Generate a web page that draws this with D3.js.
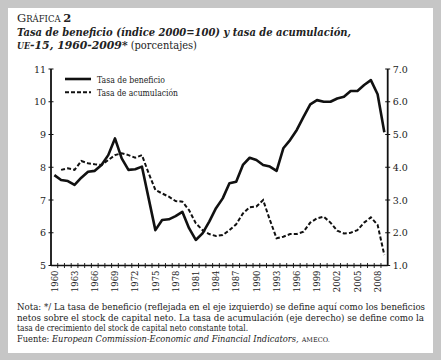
<!DOCTYPE html>
<html><head><meta charset="utf-8">
<script src="https://cdn.jsdelivr.net/npm/d3@7"></script>
<style>
body{margin:0;background:#c6c6c6;}
svg{display:block;}
</style></head>
<body>
<script>
const years = d3.range(1960, 2010);
const profitRate = [7.76,7.61,7.58,7.46,7.68,7.86,7.89,8.07,8.37,8.88,
  8.27,7.92,7.94,8.02,7.05,6.08,6.39,6.41,6.51,6.64,
  6.14,5.78,5.98,6.34,6.75,7.05,7.51,7.56,8.07,8.29,
  8.22,8.07,8.02,7.89,8.58,8.83,9.14,9.54,9.92,10.05,
  10.0,10.0,10.1,10.15,10.33,10.33,10.51,10.66,10.23,9.07];
const accumRate = [null,3.92,3.97,3.92,4.19,4.12,4.09,4.07,4.22,4.37,
  4.43,4.37,4.29,4.37,3.82,3.31,3.2,3.1,2.97,2.95,
  2.69,2.29,2.08,1.96,1.9,1.93,2.08,2.26,2.59,2.78,
  2.8,3.0,2.39,1.83,1.88,1.96,1.96,2.03,2.31,2.44,
  2.49,2.31,2.06,1.98,2.0,2.08,2.31,2.47,2.24,1.32];
const leftTicks = [5,6,7,8,9,10,11];
const rightTicks = [1,2,3,4,5,6,7];
const labelYears = d3.range(1960, 2009, 3);
const seriesNames = ["Tasa de beneficio","Tasa de acumulación"];

const FONT = "'DejaVu Serif','Liberation Serif','Times New Roman',serif";
const W=441,H=360;
const svg=d3.select("body").append("svg").attr("width",W).attr("height",H)
  .attr("font-family",FONT).attr("fill","#222");
svg.append("rect").attr("x",0).attr("y",0).attr("width",W).attr("height",H).attr("fill","#c6c6c6");
svg.append("rect").attr("x",8).attr("y",8).attr("width",425).attr("height",345).attr("fill","#fff");

function txt(sel){ return sel.append("text").attr("font-family",FONT).attr("fill","#222"); }

// Title
const t1=txt(svg).attr("x",17).attr("y",21.5).attr("font-size",11.5);
t1.append("tspan").text("G");
t1.append("tspan").attr("font-size",8.5).text("RÁFICA ");
t1.append("tspan").attr("font-weight","bold").text("2");
txt(svg).attr("x",17).attr("y",35.5).attr("font-size",11.5)
  .attr("font-weight","bold").attr("font-style","italic")
  .attr("textLength",334).attr("lengthAdjust","spacingAndGlyphs")
  .text("Tasa de beneficio (índice 2000=100) y tasa de acumulación,");
const t3=txt(svg).attr("x",17).attr("y",48.5).attr("font-size",11.5)
  .attr("textLength",180).attr("lengthAdjust","spacingAndGlyphs");
t3.append("tspan").attr("font-weight","bold").attr("font-style","italic").attr("font-size",8.5).text("UE");
t3.append("tspan").attr("font-weight","bold").attr("font-style","italic").text("-15, 1960-2009*");
t3.append("tspan").attr("font-size",10.5).text(" (porcentajes)");

// Scales
const x=d3.scaleLinear().domain([1959.5,2009.5]).range([51,387.7]);
const yL=d3.scaleLinear().domain([5,11]).range([265.5,69]);
const yR=d3.scaleLinear().domain([1,7]).range([265.5,69]);

const g=svg.append("g");
g.append("line").attr("x1",x(1959.5)).attr("x2",x(1959.5)).attr("y1",yL(11)).attr("y2",yL(5)).attr("stroke","#111").attr("stroke-width",1.8);
g.append("line").attr("x1",x(2009.5)).attr("x2",x(2009.5)).attr("y1",yR(7)).attr("y2",yR(1)).attr("stroke","#111").attr("stroke-width",1.8);
g.append("line").attr("x1",x(1959.5)).attr("x2",x(2009.5)).attr("y1",yL(5)).attr("y2",yL(5)).attr("stroke","#111").attr("stroke-width",1.5);

leftTicks.forEach(v=>{
  g.append("line").attr("x1",x(1959.5)-2.5).attr("x2",x(1959.5)+2.5).attr("y1",yL(v)).attr("y2",yL(v)).attr("stroke","#111").attr("stroke-width",1);
  txt(g).attr("x",x(1959.5)-5).attr("y",yL(v)+3.5).attr("text-anchor","end").attr("font-size",9.5).text(v);
});
rightTicks.forEach(v=>{
  g.append("line").attr("x1",x(2009.5)-2.5).attr("x2",x(2009.5)+2.5).attr("y1",yR(v)).attr("y2",yR(v)).attr("stroke","#111").attr("stroke-width",1);
  txt(g).attr("x",x(2009.5)+5).attr("y",yR(v)+3.5).attr("text-anchor","start").attr("font-size",9.5).text(d3.format(".1f")(v));
});
years.slice(0,-1).forEach(yr=>{
  g.append("line").attr("x1",x(yr+0.5)).attr("x2",x(yr+0.5)).attr("y1",yL(5)-2.5).attr("y2",yL(5)+2.5).attr("stroke","#111").attr("stroke-width",0.9);
});
labelYears.forEach(yr=>{
  const cx=x(yr)+3.3, cy=yL(5)+5;
  txt(g).attr("transform",`translate(${cx},${cy}) rotate(-90)`)
    .attr("text-anchor","end").attr("font-size",8.5).text(yr);
});

const lineL=d3.line().defined(d=>d[1]!=null).x(d=>x(d[0])).y(d=>yL(d[1]));
const lineR=d3.line().defined(d=>d[1]!=null).x(d=>x(d[0])).y(d=>yR(d[1]));
g.append("path").datum(years.map((y,i)=>[y,accumRate[i]])).attr("d",lineR)
  .attr("fill","none").attr("stroke","#111").attr("stroke-width",2).attr("stroke-dasharray","4,2.2");
g.append("path").datum(years.map((y,i)=>[y,profitRate[i]])).attr("d",lineL)
  .attr("fill","none").attr("stroke","#111").attr("stroke-width",2.6).attr("stroke-linejoin","round");

// legend
g.append("line").attr("x1",65).attr("x2",91).attr("y1",79).attr("y2",79).attr("stroke","#111").attr("stroke-width",2.6);
txt(g).attr("x",97).attr("y",82.5).attr("font-size",9.5).attr("textLength",68).attr("lengthAdjust","spacingAndGlyphs").text(seriesNames[0]);
g.append("line").attr("x1",65).attr("x2",91).attr("y1",92.3).attr("y2",92.3).attr("stroke","#111").attr("stroke-width",2).attr("stroke-dasharray","4,2");
txt(g).attr("x",97).attr("y",95.5).attr("font-size",9.5).attr("textLength",81).attr("lengthAdjust","spacingAndGlyphs").text(seriesNames[1]);

// notes
const fs=8.7;
txt(svg).attr("x",17).attr("y",309.5).attr("font-size",fs).attr("textLength",408).attr("lengthAdjust","spacingAndGlyphs")
  .text("Nota: */ La tasa de beneficio (reflejada en el eje izquierdo) se define aquí como los beneficios");
txt(svg).attr("x",17).attr("y",320.5).attr("font-size",fs).attr("textLength",407).attr("lengthAdjust","spacingAndGlyphs")
  .text("netos sobre el stock de capital neto. La tasa de acumulación (eje derecho) se define como la");
txt(svg).attr("x",17).attr("y",331.3).attr("font-size",fs).attr("textLength",231).attr("lengthAdjust","spacingAndGlyphs")
  .text("tasa de crecimiento del stock de capital neto constante total.");
const n4=txt(svg).attr("x",17).attr("y",342).attr("font-size",8.3);
n4.append("tspan").text("Fuente: ");
n4.append("tspan").attr("font-style","italic").text("European Commission-Economic and Financial Indicators,");
n4.append("tspan").attr("font-size",6.5).attr("dx",3).text("AMECO.");
</script>
</body></html>
